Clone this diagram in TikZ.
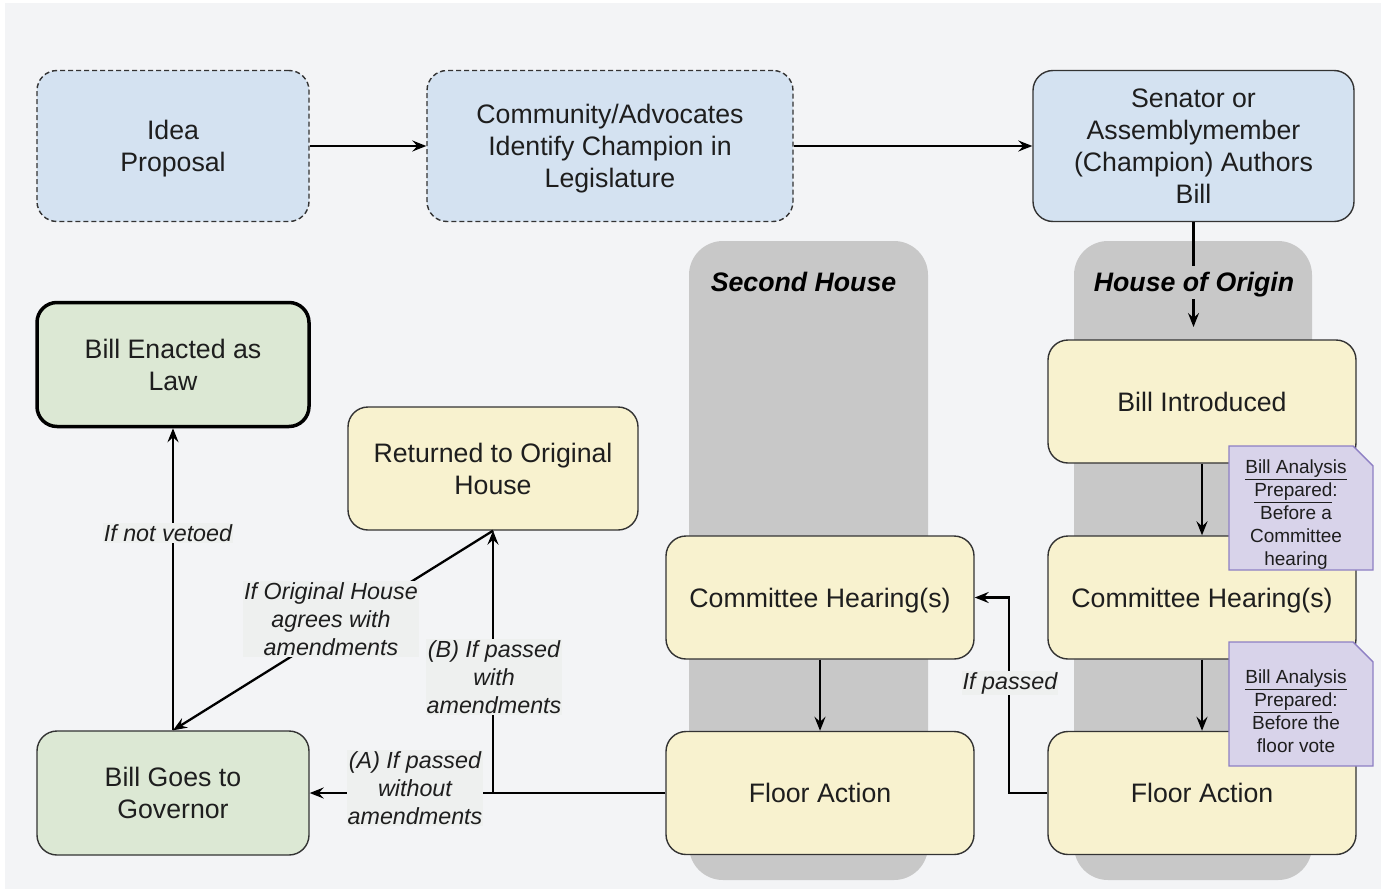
\documentclass[tikz,border=0pt]{standalone}
\usepackage{fontspec}
\setmainfont{Liberation Sans}
\usetikzlibrary{arrows.meta}
\definecolor{bgc}{HTML}{F3F4F6}
\definecolor{lblbg}{HTML}{EEF0EF}
\definecolor{bluef}{HTML}{D4E2F1}
\definecolor{yelf}{HTML}{F8F2CF}
\definecolor{grnf}{HTML}{DCE8D4}
\definecolor{lanec}{HTML}{C8C8C8}
\definecolor{notef}{HTML}{D8D3EA}
\definecolor{notes}{HTML}{8E80C4}
\definecolor{strk}{HTML}{333333}
\definecolor{txt}{HTML}{1E1E1E}
\begin{document}
\begin{tikzpicture}[x=1pt,y=-1pt,
  box/.style={draw=strk, line width=1.4pt, rounded corners=20pt, align=center, inner sep=0pt, text depth=0pt, text=txt, font=\fontsize{26.7}{32}\selectfont},
  bluebox/.style={box, fill=bluef},
  dashbox/.style={bluebox, dash pattern=on 5pt off 3pt},
  yelbox/.style={box, fill=yelf, minimum width=308pt, minimum height=123pt},
  grnbox/.style={box, fill=grnf, minimum width=272pt, minimum height=124pt},
  lane/.style={fill=lanec, rounded corners=34pt, inner sep=0pt},
  lanetitle/.style={fill=lanec, inner xsep=2pt, inner ysep=0pt, text depth=0pt, minimum height=33pt, text=black, font=\fontsize{26.7}{32}\selectfont\bfseries\itshape},
  arr/.style={draw=black, line width=2.3pt, -{Stealth[length=14pt,width=11pt,inset=5pt]}},
  lbl/.style={fill=lblbg, inner sep=1pt, align=center, text=txt, font=\fontsize{23.3}{28}\selectfont\itshape},
  notebox/.style={fill=notef, draw=notes, line width=1.4pt},
  notetext/.style={align=center, inner sep=0pt, text depth=0pt, text=txt, font=\fontsize{19}{23}\selectfont}
]
\useasboundingbox (0,0) rectangle (1383,891);
\fill[white] (0,0) rectangle (1383,891);
\fill[bgc] (5,3) rectangle (1381,889);

% swimlanes
\node[lane, minimum width=239pt, minimum height=639pt] (laneS) at (808.5,560.5) {};
\node[lane, minimum width=238pt, minimum height=639pt] (laneO) at (1193,560.5) {};

% top row
\node[dashbox, minimum width=272pt, minimum height=151pt] (idea) at (173,146) {Idea\\Proposal};
\node[dashbox, minimum width=366pt, minimum height=151pt] (comm) at (610,146) {Community/Advocates\\Identify Champion in\\Legislature};
\node[bluebox, minimum width=321pt, minimum height=151pt] (sen) at (1193.5,146) {Senator or\\Assemblymember\\(Champion) Authors\\Bill};

% house of origin
\node[yelbox] (intro) at (1202,401.5) {Bill Introduced};
\node[yelbox] (comR) at (1202,597.5) {Committee Hearing(s)};
\node[yelbox] (floR) at (1202,793) {Floor Action};

% second house
\node[yelbox] (comL) at (820,597.5) {Committee Hearing(s)};
\node[yelbox] (floL) at (820,793) {Floor Action};

% left column
\node[yelbox, minimum width=290pt] (ret) at (493,468.5) {Returned to Original\\House};
\node[box, fill=grnf, draw=black, line width=3.5pt, minimum width=272pt, minimum height=124pt] (ena) at (173,364.5) {Bill Enacted as\\Law};
\node[grnbox] (gov) at (173,793) {Bill Goes to\\Governor};

% notes
\path[notebox] (1229,446) -- (1353,446) -- (1373,466) -- (1373,570) -- (1229,570) -- cycle;
\node[notetext] (note1) at (1296,513) {\underline{Bill Analysis}\\\underline{Prepared}:\\Before a\\Committee\\hearing};
\path[notebox] (1229,642) -- (1353,642) -- (1373,662) -- (1373,766) -- (1229,766) -- cycle;
\node[notetext] (note2) at (1296,711) {\underline{Bill Analysis}\\\underline{Prepared}:\\Before the\\floor vote};

% connectors
\coordinate (introIn) at (1193.5,327);
\draw[arr] (idea.east) -- (comm.west);
\draw[arr] (comm.east) -- (sen.west);
\draw[arr] (sen.south) -- (introIn);
\draw[arr] (intro.south) -- (comR.north);
\draw[arr] (comR.south) -- (floR.north);
\draw[arr] (floR.west) -- ++(-38,0) |- (comL.east);
\draw[arr] (comL.south) -- (floL.north);
\draw[arr] (floL.west) -- (gov.east);
\draw[arr] (floL.west) -| (ret.south);
\draw[arr] (ret.south) -- (gov.north);
\draw[arr] (gov.north) -- (ena.south);

% lane titles (cover the connector)
\node[lanetitle] (tS) at (803.5,282) {Second House};
\node[lanetitle] (tO) at (1194,282) {House of Origin};

% edge labels
\node[lbl] (lpassed) at (1010,683) {If passed};
\node[lbl] (lA) at (415,788) {(A) If passed\\without\\amendments};
\node[lbl] (lB) at (494,677) {(B) If passed\\with\\amendments};
\node[lbl] (lagree) at (331,619) {If Original House\\agrees with\\amendments};
\node[lbl] (lveto) at (168,533) {If not vetoed};
\end{tikzpicture}
\end{document}
